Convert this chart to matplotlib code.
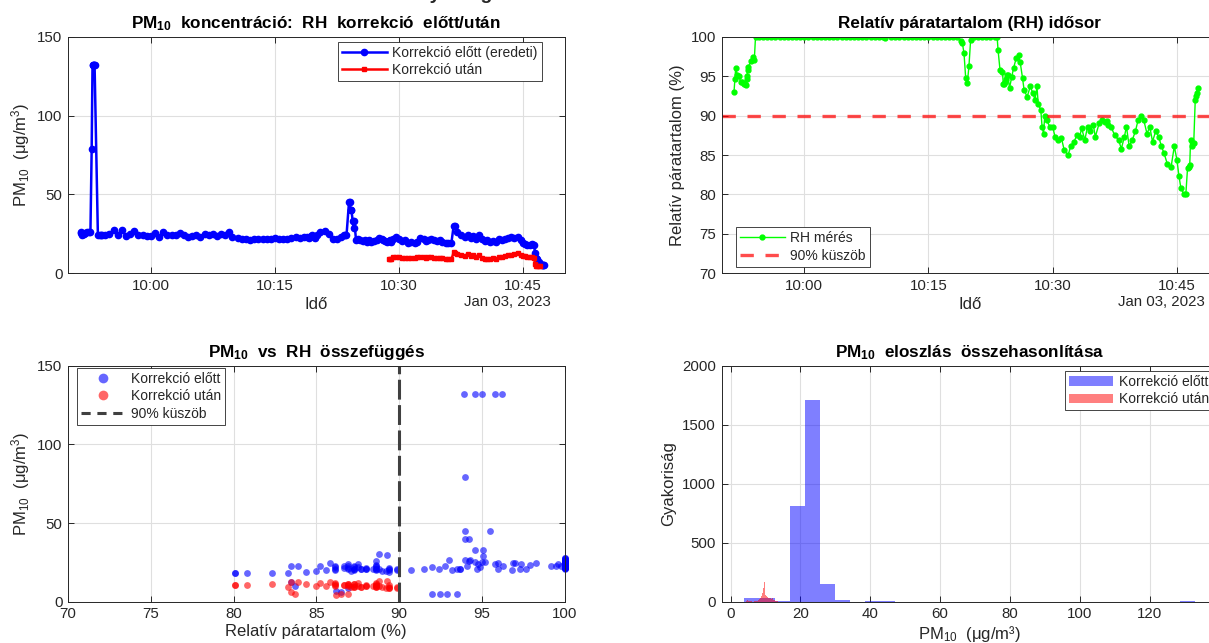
import numpy as np
import matplotlib
matplotlib.use('Agg')
import matplotlib.pyplot as plt
import matplotlib.dates as mdates
from matplotlib.lines import Line2D

plt.rcParams['font.family'] = ['Liberation Sans', 'DejaVu Sans']
plt.rcParams['mathtext.fontset'] = 'custom'
plt.rcParams['mathtext.rm'] = 'Liberation Sans'
plt.rcParams['mathtext.it'] = 'Liberation Sans:italic'
plt.rcParams['mathtext.bf'] = 'Liberation Sans:bold'

nan = float('nan')

# minutes relative to 2023-01-03 10:00
t_min = [-8.5, -8.4, -8.3, -8.1, -7.9, -7.7, -7.5, -7.3, -7.15, -7.05, -6.98, -6.92, -6.86, -6.8, -6.4, -6.2, -6.05,
         -5.9, -5.5, -5.0, -4.5, -4.0, -3.5, -3.0, -2.5, -2.0, -1.5, -1.0, -0.5, 0.0, 0.5, 1.0, 1.5, 2.0, 2.5,
         3.0, 3.5, 4.0, 4.5, 5.0, 5.5, 6.0, 6.5, 7.0, 7.5, 8.0, 8.5, 9.0, 9.5, 9.8, 10.5, 11.0, 11.5, 12.0,
         12.5, 13.0, 13.5, 14.0, 14.5, 15.0, 15.5, 16.0, 16.5, 17.0, 17.5, 18.0, 18.5,
         18.9, 19.1, 19.3, 19.5, 19.7, 19.9, 20.1, 20.5, 21.0, 21.5, 22.0, 22.5, 23.0, 23.3, 23.41,
         23.65, 23.95, 24.05, 24.15, 24.25, 24.4, 24.5, 24.6, 24.8, 25.06, 25.29, 25.62, 25.9, 26.09, 26.38,
         26.56, 26.94, 27.32, 27.64, 27.88, 28.11, 28.26, 28.58,
         28.73, 28.91, 29.05, 29.29, 29.67, 30.0, 30.32, 30.7, 31.08, 31.41, 31.88, 32.2, 32.58, 32.96, 33.29,
         33.52, 33.9, 34.23, 34.56, 34.93, 35.17, 35.64, 35.97, 36.34, 36.6, 36.75, 37.05, 37.52, 37.99, 38.32,
         38.69, 38.93, 39.26, 39.64, 40.01, 40.34, 40.67, 41.04, 41.42, 41.75, 42.08, 42.46, 42.83, 43.16, 43.49,
         43.87, 44.34, 44.71, 45.04, 45.28, 45.51, 45.84, 46.12, 46.31, 46.45, 46.59, 46.69, 46.9, 47.06,
         47.25, 47.35, 47.45, 47.53]

pm_raw = [26.4, 25.5, 24.3, 25.0, 25.5, 26.4, 26.0, 26.4, 79.0, 132.0, 132.0, 132.0, 132.0, 132.0, 24.3, 24.0, 24.5,
          24.0, 24.0, 25.0, 27.5, 24.5, 27.5, 23.5, 25.0, 27.0, 24.5, 24.0, 23.5, 23.5, 25.5, 23.0, 26.0, 24.5, 24.0,
          24.5, 25.5, 24.0, 23.0, 23.5, 24.0, 23.0, 25.0, 24.5, 25.0, 23.5, 25.0, 24.0, 26.5, 23.0, 22.5, 21.5, 22.0, 21.0,
          22.0, 21.5, 22.0, 21.5, 22.0, 22.5, 22.0, 21.5, 22.0, 22.5, 23.0, 22.5, 23.0,
          23.0, 22.5, 23.5, 24.0, 23.0, 22.5, 24.0, 26.0, 27.0, 25.0, 22.0, 21.5, 23.0, 24.0, 24.5,
          24.0, 45.0, 45.0, 40.0, 40.0, 33.0, 29.0, 33.0, 21.0, 22.0, 21.0, 20.5, 21.0, 20.0, 21.0,
          20.0, 20.5, 21.0, 22.5, 22.0, 21.0, 20.5, 20.0,
          20.5, 21.0, 20.0, 21.5, 23.0, 22.0, 20.5, 21.0, 19.5, 20.0, 19.5, 20.0, 22.5, 22.0, 20.5,
          21.0, 21.5, 21.0, 20.5, 21.0, 20.0, 19.5, 19.0, 19.5, 30.0, 30.2, 26.0, 24.0, 23.0, 24.5,
          22.5, 23.5, 22.0, 24.0, 21.5, 20.5, 21.0, 20.0, 20.5, 20.0, 21.5, 21.0, 22.0, 22.5, 23.0,
          22.5, 23.0, 21.0, 19.0, 18.5, 18.0, 18.0, 18.5, 18.0, 12.7, 10.0, 9.0, 7.0, 6.0,
          5.2, 5.0, 5.0, 5.0]

rh = [93.0, 94.6, 96.0, 95.2, 95.0, 94.3, 94.2, 94.0, 94.0, 93.9, 94.6, 95.0, 95.8, 96.2, 96.9, 97.4, 97.0,
      100, 100, 100, 100, 100, 100, 100, 100, 100, 100, 100, 100, 100, 100, 100, 100, 100, 100,
      100, 100, 100, 100, 100, 100, 100, 100, 100, 100, 100, 100, 100, 100, 99.8, 100, 100, 100, 100,
      100, 100, 100, 100, 100, 100, 100, 100, 100, 100, 100, 100, 100,
      99.5, 99.2, 97.9, 94.8, 94.1, 96.3, 99.6, 100, 100, 100, 100, 100, 100, 100, 98.3,
      95.8, 95.5, 94.0, 94.0, 94.2, 94.6, 95.1, 95.1, 93.5, 94.9, 96.0, 97.3, 97.7, 96.8, 94.7,
      93.2, 92.4, 93.7, 92.8, 92.0, 93.7, 91.5, 90.7,
      88.6, 87.7, 89.9, 89.4, 88.6, 88.6, 87.3, 86.9, 87.1, 85.6, 85.0, 86.1, 86.7, 87.5, 87.3,
      88.4, 86.9, 88.6, 88.0, 88.8, 87.3, 89.0, 89.4, 89.2, 89.3, 88.8, 88.6, 87.5, 86.9, 85.8,
      87.3, 88.6, 86.1, 86.9, 88.0, 89.4, 89.9, 89.4, 87.7, 88.6, 86.7, 88.0, 87.3, 86.1, 85.2,
      83.9, 83.5, 86.1, 84.4, 82.3, 80.8, 80.1, 80.1, 83.3, 83.5, 83.7, 86.9, 86.2, 86.5,
      92.0, 92.5, 92.9, 93.5]

# corrected PM10 only exists where RH < 90 %
pm_corr = [nan] * 105 + [
    9.1, 9.3, 9.0, 10.3, 10.6, 10.2, 9.6, 9.8, 9.5, 9.9, 10.0, 10.1, 10.5, 10.2, 9.7,
    10.1, 10.3, 10.0, 9.7, 9.9, 9.6, 9.2, 9.0, 8.9, 13.3, 13.0, 12.0, 11.8, 11.2, 12.3,
    11.0, 11.4, 10.6, 11.5, 9.9, 9.3, 9.2, 9.0, 9.4, 9.3, 10.4, 10.6, 11.0, 11.3, 11.9,
    12.4, 12.7, 11.6, 11.2, 11.0, 10.6, 10.3, 10.4, 9.5, 6.0, 4.9, 4.6, 4.5, 4.8] + [nan] * 4

# histogram counts
hist_edges_raw = np.linspace(4.0, 133.0, 31)
hist_counts_raw = [35, 35, 2, 811, 1706, 153, 18, 0, 5, 5, 0, 0, 0, 0, 0,
                   0, 0, 0, 0, 0, 0, 0, 0, 0, 0, 0, 0, 0, 0, 5]
hist_edges_corr = np.linspace(4.5, 13.5, 37)
hist_counts_corr = [10, 14, 6, 3, 2, 2, 3, 1, 1, 2, 2, 4, 6, 10, 18, 25, 32, 45,
                    70, 120, 165, 95, 60, 45, 38, 35, 32, 28, 25, 30, 28, 18, 12, 6, 4, 2]

base = np.datetime64('2023-01-03T10:00:00')
times = base + np.round(np.array(t_min) * 60).astype(int).astype('timedelta64[s]')
pm_raw = np.array(pm_raw, dtype=float)
pm_corr = np.array(pm_corr, dtype=float)
rh = np.array(rh, dtype=float)

DARK = '#262626'
GRID = '#dfdfdf'
W, H = 1209, 643
TICK_FS = 10.8
LABEL_FS = 12
TITLE_FS = 12.3


def style(ax):
    ax.grid(True, color=GRID, lw=0.8)
    ax.set_axisbelow(True)
    ax.tick_params(direction='in', length=4, width=0.7, colors=DARK, labelsize=TICK_FS,
                   top=True, right=True, pad=4)
    for s in ax.spines.values():
        s.set_color(DARK)
        s.set_linewidth(0.7)


def time_axis(ax):
    ax.xaxis.set_major_locator(mdates.MinuteLocator(byminute=[0, 15, 30, 45]))
    ax.xaxis.set_major_formatter(mdates.DateFormatter('%H:%M'))
    ax.set_xlim(np.datetime64('2023-01-03T09:50'), np.datetime64('2023-01-03T10:50'))
    ax.text(0.973, -0.12, 'Jan 03, 2023', transform=ax.transAxes, ha='right', va='center',
            fontsize=TICK_FS, color=DARK)
    ax.set_xlabel('Idő', fontsize=LABEL_FS, color=DARK, labelpad=3)


def legend(ax, handles, labels, loc, anchor):
    lg = ax.legend(handles, labels, loc=loc, bbox_to_anchor=anchor, borderaxespad=0,
                   fontsize=10, frameon=True, fancybox=False, framealpha=1,
                   handlelength=3.2, handletextpad=0.4, borderpad=0.3, labelspacing=0.25)
    lg.get_frame().set_edgecolor(DARK)
    lg.get_frame().set_linewidth(0.6)
    for t in lg.get_texts():
        t.set_color(DARK)
    return lg


fig = plt.figure(figsize=(W / 100, H / 100), dpi=100)
ax1 = fig.add_axes([68.1 / W, 1 - 273.3 / H, 496.4 / W, 236.6 / H])
ax2 = fig.add_axes([721.6 / W, 1 - 273.3 / H, 496.4 / W, 236.6 / H])
ax3 = fig.add_axes([68.1 / W, 1 - 601.7 / H, 496.4 / W, 236.0 / H])
ax4 = fig.add_axes([721.6 / W, 1 - 601.7 / H, 496.4 / W, 236.0 / H])

pm_label = r'PM$_{10}$  (μg/m$^{3}$)'

# --- PM10 time series
style(ax1)
l1, = ax1.plot(times, pm_raw, '-o', color=(0, 0, 1), lw=1.8, ms=4.5)
l2, = ax1.plot(times, pm_corr, '-s', color=(1, 0, 0), lw=1.8, ms=3.5)
time_axis(ax1)
ax1.set_ylim(0, 150)
ax1.set_yticks([0, 50, 100, 150])
ax1.set_ylabel(pm_label, fontsize=LABEL_FS, color=DARK)
ax1.set_title(r'PM$_{\mathbf{10}}$  koncentráció:  RH  korrekció  előtt/után',
              fontsize=TITLE_FS, fontweight='bold', pad=6)
legend(ax1, [l1, l2], ['Korrekció előtt (eredeti)', 'Korrekció után'], 'upper right', (0.954, 0.979))

# --- RH time series
style(ax2)
g1, = ax2.plot(times, rh, '-o', color=(0, 1, 0), lw=1.0, ms=3.5)
g2 = ax2.axhline(90, color='r', alpha=0.7, lw=2.4, dashes=(4, 3.5))
time_axis(ax2)
ax2.set_ylim(70, 100)
ax2.set_yticks(np.arange(70, 101, 5))
ax2.set_ylabel('Relatív páratartalom (%)', fontsize=LABEL_FS, color=DARK)
ax2.set_title('Relatív páratartalom (RH) idősor', fontsize=TITLE_FS, fontweight='bold', pad=6)
legend(ax2, [g1, g2], ['RH mérés', '90% küszöb'], 'lower left', (0.029, 0.028))

# --- scatter PM10 vs RH
style(ax3)
ax3.scatter(rh, pm_raw, s=24, color=(0, 0, 1), alpha=0.6, lw=0, clip_on=False)
ax3.scatter(rh, pm_corr, s=24, color=(1, 0, 0), alpha=0.6, lw=0, clip_on=False)
ax3.axvline(90, color='#404040', lw=2.2, dashes=(6.5, 1.8))
ax3.set_xlim(70, 100)
ax3.set_ylim(0, 150)
ax3.set_xticks(np.arange(70, 101, 5))
ax3.set_yticks([0, 50, 100, 150])
ax3.set_xlabel('Relatív páratartalom (%)', fontsize=LABEL_FS, color=DARK, labelpad=2)
ax3.set_ylabel(pm_label, fontsize=LABEL_FS, color=DARK)
ax3.set_title(r'PM$_{\mathbf{10}}$  vs  RH  összefüggés', fontsize=TITLE_FS, fontweight='bold', pad=6)
h_s1 = Line2D([], [], ls='none', marker='o', ms=7, color=(0, 0, 1), alpha=0.6, mew=0)
h_s2 = Line2D([], [], ls='none', marker='o', ms=7, color=(1, 0, 0), alpha=0.6, mew=0)
h_v = Line2D([], [], color='#404040', lw=2.2, dashes=(3, 2.2))
legend(ax3, [h_s1, h_s2, h_v], ['Korrekció előtt', 'Korrekció után', '90% küszöb'],
       'upper left', (0.017, 0.992))

# --- histograms
style(ax4)
ax4.hist(hist_edges_raw[:-1], bins=hist_edges_raw, weights=hist_counts_raw,
         color=(0, 0, 1), alpha=0.5, label='Korrekció előtt')
ax4.hist(hist_edges_corr[:-1], bins=hist_edges_corr, weights=hist_counts_corr,
         color=(1, 0, 0), alpha=0.5, label='Korrekció után')
ax4.set_xlim(-2.55, 139.5)
ax4.set_ylim(0, 2000)
ax4.set_xticks(np.arange(0, 121, 20))
ax4.set_yticks(np.arange(0, 2001, 500))
ax4.set_xlabel('PM$_{10}$  (μg/m³)', fontsize=LABEL_FS, color=DARK, labelpad=2)
ax4.set_ylabel('Gyakoriság', fontsize=LABEL_FS, color=DARK)
ax4.set_title(r'PM$_{\mathbf{10}}$  eloszlás  összehasonlítása', fontsize=TITLE_FS, fontweight='bold', pad=6)
h, lab = ax4.get_legend_handles_labels()
legend(ax4, h, lab, 'upper right', (0.99, 0.979))

# overall title, mostly cut off at the top of the image (as in the reference)
fig.text(0.1795, 1 + 1.0 / H, 'PM10  RH-korrekció:  nyers  görbe  és  korrekció  utáni  értékek',
         ha='left', va='baseline', fontsize=14, fontweight='bold', color=DARK)

fig.savefig('out.png', dpi=100)
